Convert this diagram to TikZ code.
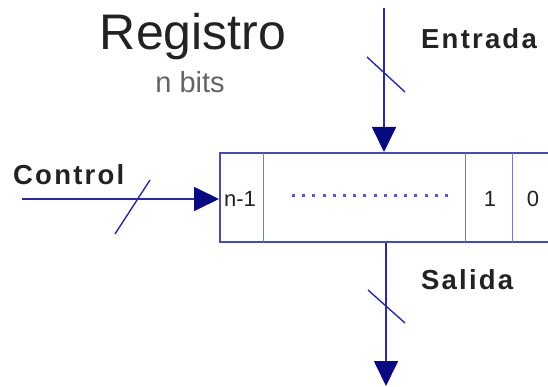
\documentclass[tikz,border=0pt]{standalone}
\usepackage{fontspec}
\setmainfont{Liberation Sans}
\newfontfamily\plainfont{Liberation Sans}
\newfontfamily\lblfont[LetterSpace=8]{Liberation Sans Bold}
\usetikzlibrary{arrows.meta}
\definecolor{wire}{HTML}{2A2A9A}
\definecolor{head}{HTML}{0A0A80}
\definecolor{cellc}{HTML}{7878C8}
\definecolor{dotc}{HTML}{5A5AB8}
\definecolor{txt}{HTML}{222222}
\tikzset{
  wireline/.style={draw=wire, line width=1.8pt, -{Triangle[length=25pt,width=24pt,fill=head,color=head]}},
  slash/.style={draw=wire, line width=1.4pt},
  boxline/.style={draw=wire!85, line width=2.2pt},
  cellline/.style={draw=cellc, line width=1pt},
  title/.style={text=txt, font=\plainfont\fontsize{50}{54}\selectfont, inner sep=0pt},
  subtitle/.style={text=txt!70, font=\plainfont\fontsize{29}{32}\selectfont, inner sep=0pt},
  lbl/.style={text=txt, font=\lblfont\fontsize{27.5}{30}\selectfont, inner sep=0pt, anchor=base west},
  cell/.style={text=txt, font=\plainfont\fontsize{22}{24}\selectfont, inner sep=0pt}
}
\begin{document}
\begin{tikzpicture}[x=1pt,y=-1pt]
\useasboundingbox (0,0) rectangle (548,387);
\clip (0,0) rectangle (548,387);
% register box
\draw[boxline] (560,153) -- (220,153) -- (220,242) -- (560,242);
\draw[cellline] (263,153) -- (263,242);
\draw[cellline] (465,153) -- (465,242);
\draw[cellline] (512,153) -- (512,242);
\draw[draw=dotc, line width=3pt, dash pattern=on 3pt off 7.2pt] (292,196) -- (452,196);
\node[cell] (nm1) at (240,199) {n-1};
\node[cell] (one) at (490,199) {1};
\node[cell] (zero) at (533,199) {0};
% titles
\node[title] (reg) at (193,37) {Registro};
\node[subtitle] (nb) at (190,82) {n bits};
% ports
\coordinate (inTop) at (384,8);
\coordinate (inBot) at (384,152);
\coordinate (ctlL) at (22,199);
\coordinate (ctlR) at (219,199);
\coordinate (outTop) at (386,243);
\coordinate (outBot) at (386,386);
\draw[wireline] (inTop) -- (inBot);
\draw[wireline] (ctlL) -- (ctlR);
\draw[wireline] (outTop) -- (outBot);
\draw[slash] (367,57) -- (405,92);
\draw[slash] (115,234) -- (150,180);
\draw[slash] (368,290) -- (405,323);
\node[lbl] (ent) at (421,49) {Entrada};
\node[lbl] (ctl) at (13,185) {Control};
\node[lbl] (sal) at (421,289) {Salida};
\end{tikzpicture}
\end{document}
